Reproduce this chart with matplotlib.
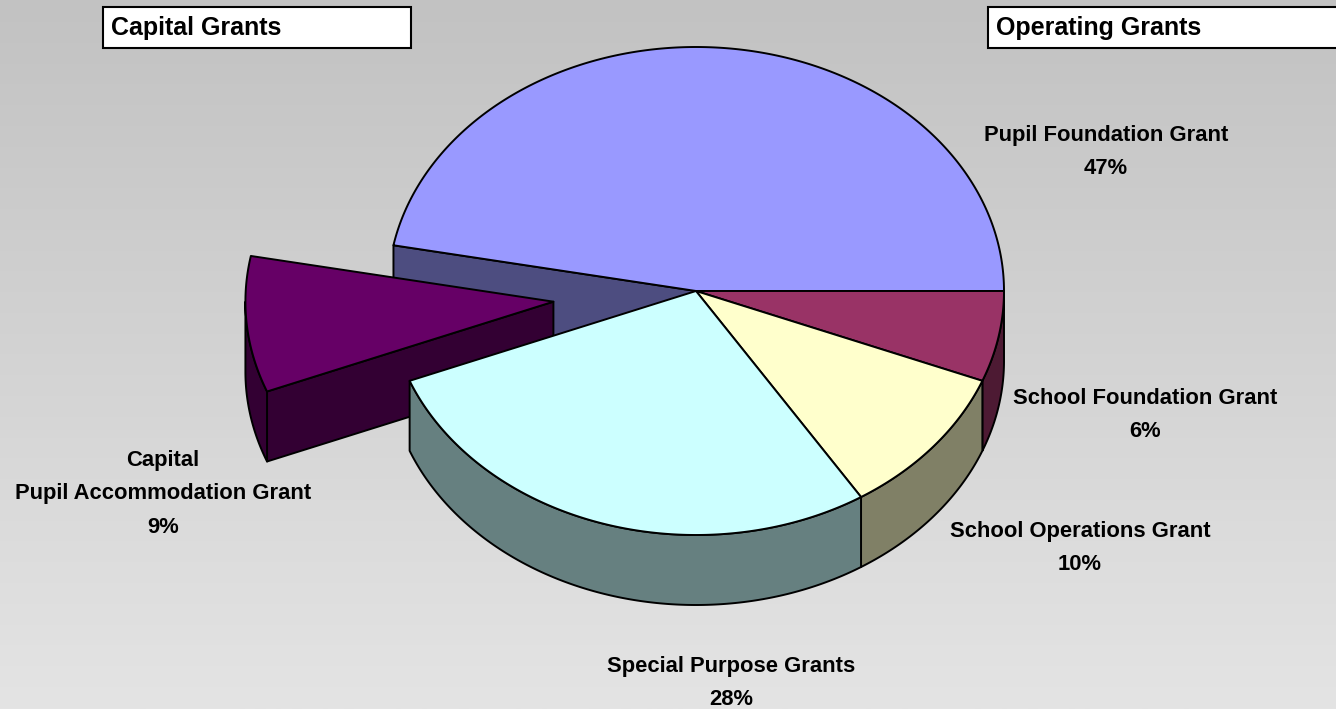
import numpy as np
import matplotlib.pyplot as plt
from matplotlib.patches import Polygon, Rectangle

# slices, clockwise from 3 o'clock
labels = ["School Foundation Grant", "School Operations Grant",
          "Special Purpose Grants", "Capital\nPupil Accommodation Grant",
          "Pupil Foundation Grant"]
shares = [6, 10, 28, 9, 47]
top_colors = ["#993366", "#ffffcc", "#ccffff", "#660066", "#9999ff"]
side_colors = ["#4d1a33", "#808066", "#668080", "#330033", "#4d4d80"]
explode = [0, 0, 0, 0.465, 0]
label_xy = [(1145, 415), (1080, 548), (731, 683), (163, 494), (1106, 152)]

groups = ["Capital Grants", "Operating Grants"]
group_box = [(103, 7, 308, 41), (988, 7, 360, 41)]

W, H = 1336, 709
CX, CY = 696, 291
RX, RY = 308, 244
DEPTH = 70

fig = plt.figure(figsize=(W / 100, H / 100), dpi=100)
ax = fig.add_axes([0, 0, 1, 1])
ax.set_xlim(0, W)
ax.set_ylim(H, 0)
ax.axis('off')

# grey gradient background
grad = np.linspace(0xc2, 0xe4, 256)[:, None] / 255.0
ax.imshow(np.dstack([grad, grad, grad]), extent=[0, W, H, 0], aspect='auto', zorder=0)


def arc(a0, a1, cx, cy, dy=0):
    t = np.radians(np.linspace(a0, a1, int(abs(a1 - a0) * 3) + 2))
    return np.column_stack([cx + RX * np.cos(t), cy + dy + RY * np.sin(t)])


def face(pts, color, z):
    ax.add_patch(Polygon(pts, closed=True, facecolor=color, edgecolor='black',
                         lw=1.4, joinstyle='round', zorder=z))


total = float(sum(shares))
ends = np.cumsum(shares) / total * 360.0
starts = np.concatenate([[0], ends[:-1]])
n = len(shares)

# back slice first, then the exploded one, then the front slices
order = [4, 3, 0, 1, 2]
z = 1
for i in order:
    a0, a1 = starts[i], ends[i]
    mid = np.radians((a0 + a1) / 2)
    cx = CX + explode[i] * RX * np.cos(mid)
    cy = CY + explode[i] * RY * np.sin(mid)

    # radial cut faces, only where a gap opens next to an exploded slice
    cut = explode[i] > 0
    if (cut or explode[(i - 1) % n] > 0) and 90 < a0 < 270:
        p = arc(a0, a0, cx, cy)[0]
        face([(cx, cy), p, (p[0], p[1] + DEPTH), (cx, cy + DEPTH)], side_colors[i], z)
        z += 1
    b = a1 % 360
    if (cut or explode[(i + 1) % n] > 0) and (b > 270 or b < 90):
        p = arc(a1, a1, cx, cy)[0]
        face([(cx, cy), p, (p[0], p[1] + DEPTH), (cx, cy + DEPTH)], side_colors[i], z)
        z += 1

    # outer wall on the front half
    lo, hi = max(a0, 0), min(a1, 180)
    if lo < hi:
        wall = np.vstack([arc(lo, hi, cx, cy), arc(hi, lo, cx, cy, DEPTH)])
        face(wall, side_colors[i], z)
        z += 1

    top = np.vstack([[(cx, cy)], arc(a0, a1, cx, cy)])
    face(top, top_colors[i], z)
    z += 1

for i, lab in enumerate(labels):
    pct = "%d%%" % round(shares[i] / total * 100)
    ax.text(label_xy[i][0], label_xy[i][1], lab + "\n" + pct, ha='center', va='center',
            multialignment='center', fontsize=15.8, fontweight='bold',
            family='Liberation Sans', linespacing=1.78, zorder=50)

for g, (x, y, w, h) in zip(groups, group_box):
    ax.add_patch(Rectangle((x, y), w, h, facecolor='white', edgecolor='black',
                           lw=1.5, zorder=50))
    ax.text(x + 8, y + h / 2 + 1, g, ha='left', va='center', fontsize=18,
            fontweight='bold', family='Liberation Sans', zorder=51)

fig.savefig('out.png', dpi=100)
